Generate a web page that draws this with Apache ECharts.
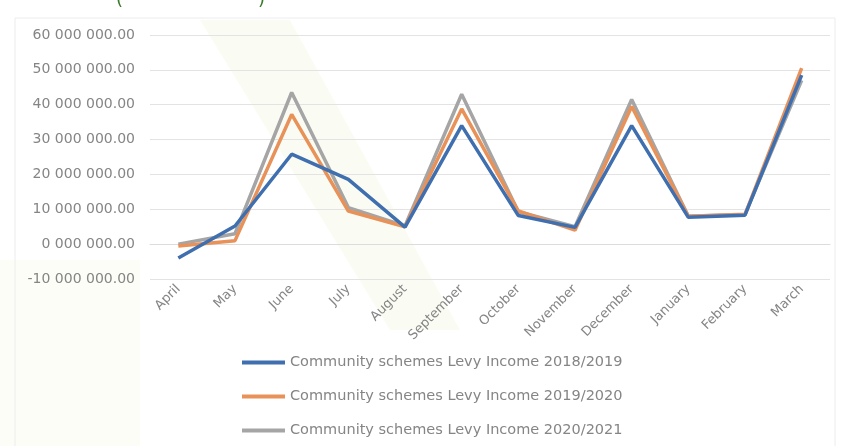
<!DOCTYPE html>
<html>
<head>
<meta charset="utf-8">
<script src="https://cdn.jsdelivr.net/npm/echarts@6/dist/echarts.min.js"></script>
<style>
html,body{margin:0;padding:0;background:#fff;}
#chart{width:843px;height:446px;}
</style>
</head>
<body>
<div id="chart"></div>
<script>
var months = ['April','May','June','July','August','September','October','November','December','January','February','March'];
var seriesNames = [
  'Community schemes Levy Income 2018/2019',
  'Community schemes Levy Income 2019/2020',
  'Community schemes Levy Income 2020/2021'
];
var levy2018 = [-4000000, 5200000, 25800000, 18600000, 4900000, 34000000, 8200000, 4800000, 34000000, 7700000, 8300000, 48500000];
var levy2019 = [-500000, 1000000, 37200000, 9500000, 5000000, 38800000, 9500000, 4000000, 39500000, 8000000, 8500000, 50500000];
var levy2020 = [0, 3000000, 43500000, 10500000, 5200000, 43000000, 9300000, 5000000, 41500000, 8000000, 8600000, 47000000];
var yTicks = {min: -10000000, max: 60000000, interval: 10000000};

function fmt(v){
  var neg = v < 0;
  var s = Math.abs(Math.round(v)).toString();
  while (s.length < 7) s = '0' + s;
  var out = '';
  for (var i = 0; i < s.length; i++) {
    if (i > 0 && (s.length - i) % 3 === 0) out += ' ';
    out += s[i];
  }
  return (neg ? '-' : '') + out + '.00';
}

var colors = ['#3f6fae', '#e8925a', '#a5a5a5'];
var chart = echarts.init(document.getElementById('chart'));
var textColor = '#858585';
chart.setOption({
  animation: false,
  color: colors,
  textStyle: {fontFamily: 'DejaVu Sans'},
  grid: {left: 150, right: 13, top: 35, bottom: 167},
  graphic: [
    {type: 'rect', shape: {x: 15, y: 18, width: 820, height: 440}, style: {fill: 'none', stroke: '#ececec', lineWidth: 1}, z: -10},
    {type: 'polygon', shape: {points: [[200, 20], [290, 20], [460, 330], [390, 330]]}, style: {fill: 'rgba(240,245,215,0.3)'}, z: -20},
    {type: 'polygon', shape: {points: [[0, 260], [140, 260], [140, 446], [0, 446]]}, style: {fill: 'rgba(245,248,228,0.3)'}, z: -20},
    {type: 'text', left: 116, top: -9, style: {text: '(', fill: '#3a7a2a', font: '18px DejaVu Sans'}},
    {type: 'text', left: 258, top: -9, style: {text: ')', fill: '#3a7a2a', font: '18px DejaVu Sans'}}
  ],
  legend: {
    orient: 'vertical',
    left: 242,
    top: 355,
    padding: 0,
    itemWidth: 43,
    itemHeight: 4,
    itemGap: 19,
    icon: 'rect',
    textStyle: {color: textColor, fontSize: 14.5, lineHeight: 12, fontFamily: 'DejaVu Sans'},
    data: seriesNames
  },
  xAxis: {
    type: 'category',
    data: months,
    boundaryGap: true,
    axisLine: {show: true, onZero: true, lineStyle: {color: '#dcdcdc'}},
    axisTick: {show: false},
    axisLabel: {rotate: 45, color: textColor, fontSize: 13, margin: 8, interval: 0}
  },
  yAxis: {
    type: 'value',
    min: yTicks.min,
    max: yTicks.max,
    interval: yTicks.interval,
    axisLine: {show: false},
    axisTick: {show: false},
    splitLine: {lineStyle: {color: '#e3e3e3'}},
    axisLabel: {color: textColor, fontSize: 14, margin: 15, formatter: fmt}
  },
  series: [
    {name: seriesNames[0], type: 'line', data: levy2018, symbol: 'none', lineStyle: {width: 3.5}, z: 3},
    {name: seriesNames[1], type: 'line', data: levy2019, symbol: 'none', lineStyle: {width: 3.5}, z: 2},
    {name: seriesNames[2], type: 'line', data: levy2020, symbol: 'none', lineStyle: {width: 3.5}, z: 1}
  ]
});
</script>
</body>
</html>
